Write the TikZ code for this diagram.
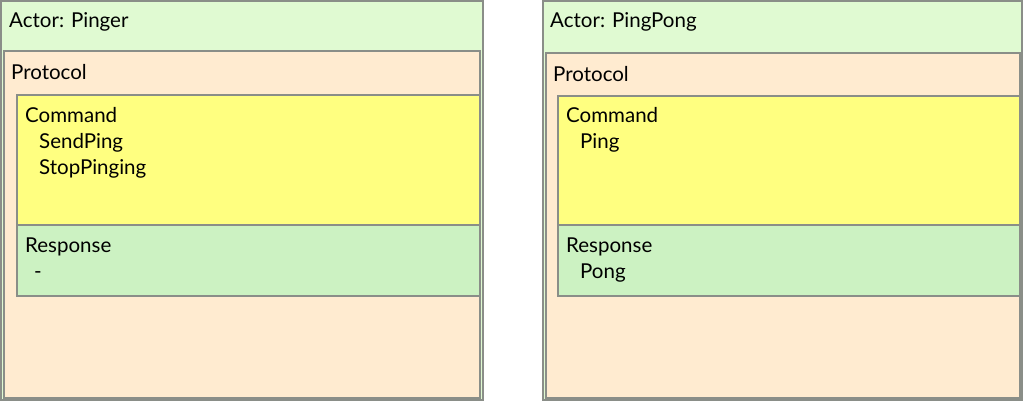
\documentclass[tikz,border=0pt]{standalone}
\usepackage{fontspec}
\setmainfont{Lato}

\definecolor{actorgreen}{HTML}{E0FAD2}
\definecolor{protpeach}{HTML}{FFEBD0}
\definecolor{cmdyellow}{HTML}{FFFF80}
\definecolor{respgreen}{HTML}{CCF2C2}
\definecolor{boxgray}{HTML}{8A8E88}

\begin{document}
\begin{tikzpicture}[x=1pt,y=-1pt,
    box/.style={draw=boxgray, line width=1.3pt},
    lbl/.style={anchor=base west, inner sep=0pt, font=\fontsize{20.5}{22}\selectfont}]

    \useasboundingbox (0,0) rectangle (1025,402);

    % left actor
    \draw[box, fill=actorgreen] (1,1) rectangle (483,400);
    \draw[box, fill=protpeach] (4,51) rectangle (480,398);
    \draw[box, fill=cmdyellow] (17,95) rectangle (480,225);
    \draw[box, fill=respgreen] (17,225) rectangle (480,296);

    \node[lbl] (actL) at (9,27) {Actor: Pinger};
    \node[lbl] (protL) at (11,79) {Protocol};
    \node[lbl] (cmdL) at (25,122) {Command};
    \node[lbl] (cmdL1) at (39,148) {SendPing};
    \node[lbl] (cmdL2) at (39,174) {StopPinging};
    \node[lbl] (respL) at (25,252) {Response};
    \node[lbl] (respL1) at (34,278) {-};

    % right actor
    \draw[box, fill=actorgreen] (543,1) rectangle (1022,400);
    \draw[box, fill=protpeach] (546,53) rectangle (1020,398);
    \draw[box, fill=cmdyellow] (558,96) rectangle (1020,225);
    \draw[box, fill=respgreen] (558,225) rectangle (1020,296);

    \node[lbl] (actR) at (550,27) {Actor: PingPong};
    \node[lbl] (protR) at (553,81) {Protocol};
    \node[lbl] (cmdR) at (566,122) {Command};
    \node[lbl] (cmdR1) at (580,148) {Ping};
    \node[lbl] (respR) at (566,252) {Response};
    \node[lbl] (respR1) at (580,278) {Pong};

\end{tikzpicture}
\end{document}
